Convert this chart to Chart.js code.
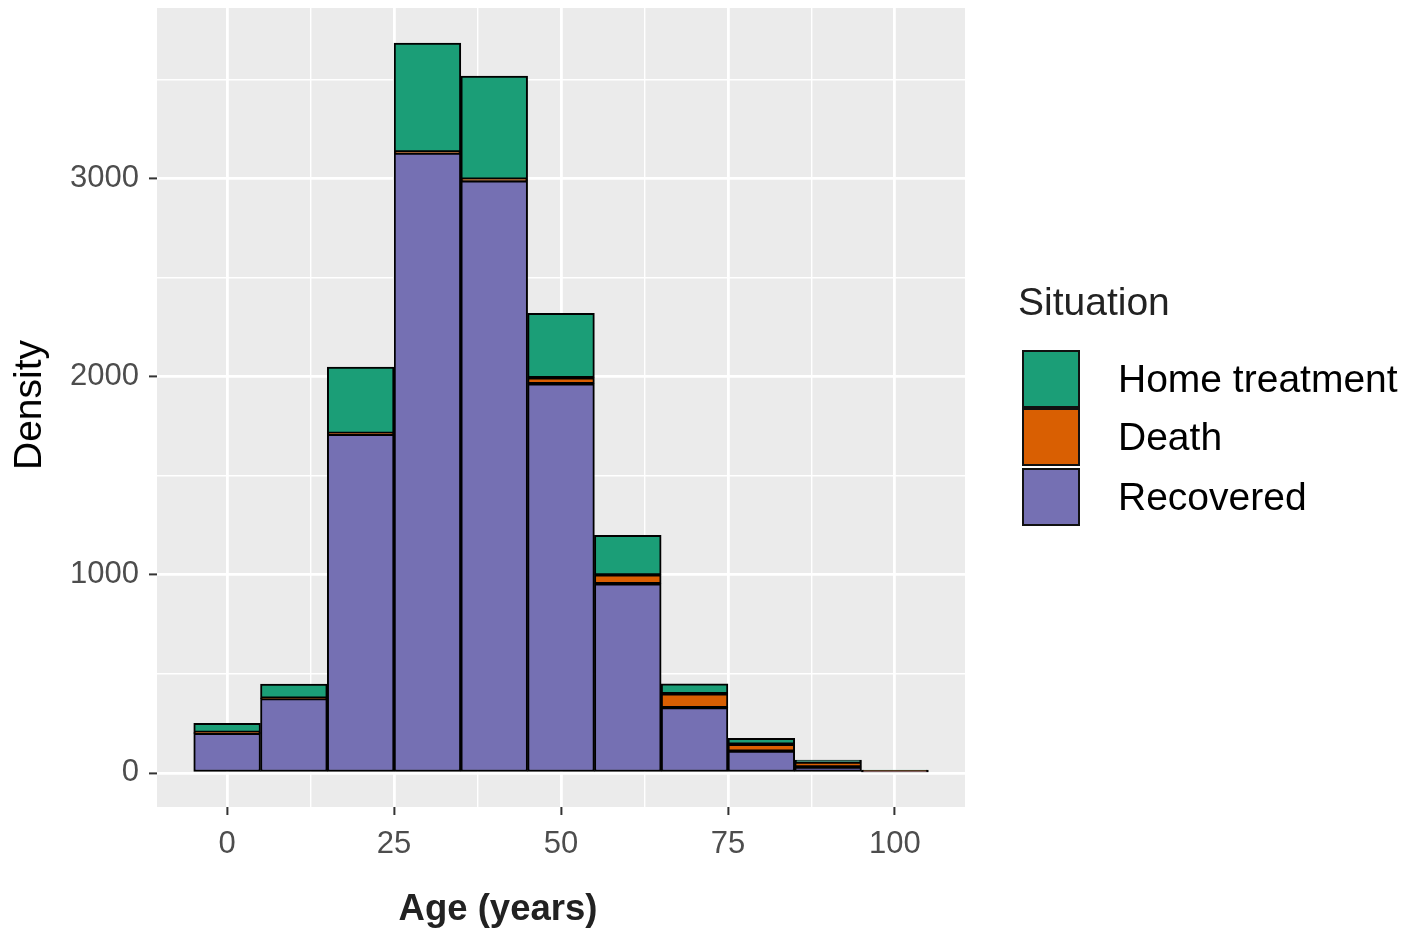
<!DOCTYPE html>
<html lang="en">
<head>
    <meta charset="UTF-8">
    <title>Age histogram by situation</title>
    <script src="https://cdn.jsdelivr.net/npm/chart.js"></script>
    <style>
        body { margin: 0; background: #fff; font-family: "Liberation Sans", Arial, sans-serif; }
        #wrap { position: relative; width: 1411px; height: 933px; }
        .lbl { position: absolute; white-space: nowrap; color: #000; }
        .key { position: absolute; left: 1022px; width: 54px; height: 54px; border: 2px solid #111; }
    </style>
</head>
<body>
    <div id="wrap">
        <canvas id="histChart"></canvas>

        <!-- axis titles -->
        <div class="lbl" id="yTitle" style="left:28px; top:405px; font-size:39px; transform:translate(-50%,-50%) rotate(-90deg);">Density</div>
        <div class="lbl" id="xTitle" style="left:498px; top:908px; font-size:36.5px; font-weight:bold; color:#222; transform:translate(-50%,-50%);">Age (years)</div>

        <!-- legend -->
        <div id="legend"></div>
    </div>

    <script>
        // bin centres (bin width 10 years)
        const binCenters = [0, 10, 20, 30, 40, 50, 60, 70, 80, 90, 100];
        const recovered     = [200, 375, 1710, 3130, 2990, 1965, 955, 330, 110, 30, 5];
        const death         = [5, 3, 4, 5, 8, 30, 45, 70, 35, 25, 8];
        const homeTreatment = [45, 70, 335, 550, 520, 325, 200, 50, 30, 10, 2];

        // grid / tick positions
        const xGridVals = [0, 12.5, 25, 37.5, 50, 62.5, 75, 87.5, 100];
        const xTickLabels = ['0', '25', '50', '75', '100'];
        const yGridVals = [0, 500, 1000, 1500, 2000, 2500, 3000, 3500];
        const yTickLabels = ['0', '1000', '2000', '3000'];

        const seriesNames = ['Recovered', 'Death', 'Home treatment'];
        const seriesColors = ['#7570B3', '#D95F02', '#1B9E77'];
        const seriesValues = [recovered, death, homeTreatment];

        // build legend (top to bottom = top of stack first)
        const legend = document.getElementById('legend');
        legend.innerHTML = '<div class="lbl" style="left:1018px; top:302px; font-size:39px; color:#222; transform:translateY(-50%);">Situation</div>';
        const keyTops = [350, 408, 468];
        [2, 1, 0].forEach((s, i) => {
            legend.innerHTML +=
                '<div class="key" style="top:' + keyTops[i] + 'px; background:' + seriesColors[s] + ';"></div>' +
                '<div class="lbl" style="left:1118px; top:' + (keyTops[i] + 29) + 'px; font-size:39px; transform:translateY(-50%);">' + seriesNames[s] + '</div>';
        });

        const panelBg = {
            id: 'panelBg',
            beforeDraw(chart) {
                const a = chart.chartArea;
                const c = chart.ctx;
                c.save();
                c.fillStyle = '#EBEBEB';
                c.fillRect(a.left, a.top, a.right - a.left, a.bottom - a.top);
                c.restore();
            }
        };

        const isMajorX = v => xTickLabels.includes(String(v));
        const isMajorY = v => yTickLabels.includes(String(v));
        const tickVal = c => (c.tick ? c.tick.value : null);

        const ctx = document.getElementById('histChart').getContext('2d');
        new Chart(ctx, {
            type: 'bar',
            data: {
                datasets: seriesNames.map((name, s) => ({
                    label: name,
                    data: binCenters.map((x, i) => ({ x: x, y: seriesValues[s][i] })),
                    backgroundColor: seriesColors[s],
                    borderColor: '#000',
                    borderWidth: 2,
                    borderSkipped: false,
                    barPercentage: 1,
                    categoryPercentage: 1
                }))
            },
            options: {
                responsive: true,
                maintainAspectRatio: false,
                animation: false,
                layout: { padding: { top: 8, right: 446, bottom: 0, left: 0 } },
                plugins: {
                    legend: { display: false },
                    tooltip: { enabled: false }
                },
                scales: {
                    x: {
                        type: 'linear',
                        stacked: true,
                        offset: false,
                        min: -10.5,
                        max: 110.5,
                        afterBuildTicks: s => { s.ticks = xGridVals.map(v => ({ value: v })); },
                        afterFit: s => { s.height = 126; s.paddingLeft = 0; s.paddingRight = 0; },
                        border: { display: false },
                        grid: {
                            offset: false,
                            color: '#FFFFFF',
                            lineWidth: c => isMajorX(tickVal(c)) ? 2.8 : 1.4,
                            tickColor: c => isMajorX(tickVal(c)) ? '#333333' : 'rgba(0,0,0,0)',
                            tickWidth: 2,
                            tickLength: 8
                        },
                        ticks: {
                            autoSkip: false,
                            maxRotation: 0,
                            padding: 11,
                            color: '#4D4D4D',
                            font: { family: 'Liberation Sans', size: 31 },
                            callback: v => isMajorX(v) ? String(v) : ''
                        }
                    },
                    y: {
                        stacked: true,
                        min: -172,
                        max: 3862,
                        afterBuildTicks: s => { s.ticks = yGridVals.map(v => ({ value: v })); },
                        afterFit: s => { s.width = 157; s.paddingTop = 0; s.paddingBottom = 0; },
                        border: { display: false },
                        grid: {
                            color: '#FFFFFF',
                            lineWidth: c => isMajorY(tickVal(c)) ? 2.8 : 1.4,
                            tickColor: c => isMajorY(tickVal(c)) ? '#333333' : 'rgba(0,0,0,0)',
                            tickWidth: 2,
                            tickLength: 8
                        },
                        ticks: {
                            autoSkip: false,
                            padding: 10,
                            color: '#4D4D4D',
                            font: { family: 'Liberation Sans', size: 31 },
                            callback: v => isMajorY(v) ? String(v) : ''
                        }
                    }
                }
            },
            plugins: [panelBg]
        });
    </script>
</body>
</html>
